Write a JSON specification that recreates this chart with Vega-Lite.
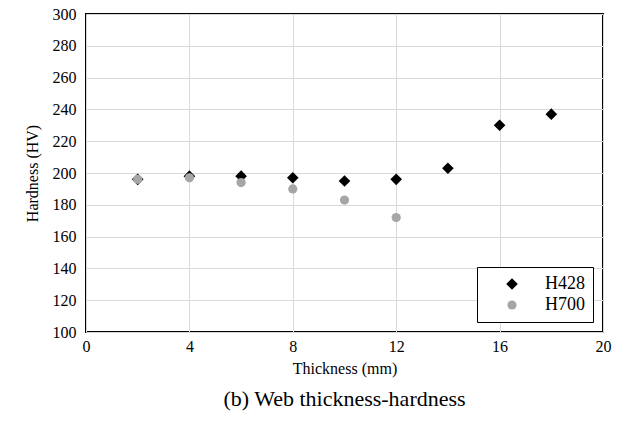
{
  "$schema": "https://vega.github.io/schema/vega-lite/v6.json",
  "width": 517,
  "height": 318,
  "autosize": "none",
  "padding": {"left": 86, "top": 14, "right": 17, "bottom": 91},
  "background": "white",
  "title": {
    "text": "(b) Web thickness-hardness",
    "orient": "bottom",
    "font": "Liberation Serif",
    "fontSize": 22,
    "fontWeight": "normal",
    "color": "black",
    "offset": 13,
    "anchor": "middle"
  },
  "config": {
    "view": {"stroke": "black", "strokeWidth": 2},
    "font": "Liberation Serif",
    "legend": {
      "orient": "none",
      "legendX": 391,
      "legendY": 253,
      "strokeColor": "black",
      "fillColor": "white",
      "padding": 8,
      "labelFont": "Liberation Serif",
      "labelFontSize": 18,
      "labelColor": "black",
      "labelOffset": 24,
      "symbolOffset": 18,
      "rowPadding": 3,
      "symbolStrokeWidth": 0
    }
  },
  "data": {
    "values": [
      {"t": 2, "hv": 196, "s": "H428"},
      {"t": 4, "hv": 198, "s": "H428"},
      {"t": 6, "hv": 198, "s": "H428"},
      {"t": 8, "hv": 197, "s": "H428"},
      {"t": 10, "hv": 195, "s": "H428"},
      {"t": 12, "hv": 196, "s": "H428"},
      {"t": 14, "hv": 203, "s": "H428"},
      {"t": 16, "hv": 230, "s": "H428"},
      {"t": 18, "hv": 237, "s": "H428"},
      {"t": 2, "hv": 196, "s": "H700"},
      {"t": 4, "hv": 197, "s": "H700"},
      {"t": 6, "hv": 194, "s": "H700"},
      {"t": 8, "hv": 190, "s": "H700"},
      {"t": 10, "hv": 183, "s": "H700"},
      {"t": 12, "hv": 172, "s": "H700"}
    ]
  },
  "mark": {"type": "point", "filled": true, "opacity": 1, "strokeWidth": 0},
  "encoding": {
    "x": {
      "field": "t",
      "type": "quantitative",
      "scale": {"domain": [0, 20], "nice": false},
      "axis": {
        "title": "Thickness (mm)",
        "values": [0, 4, 8, 12, 16, 20],
        "grid": true,
        "gridColor": "#d9d9d9",
        "domain": false,
        "ticks": false,
        "labelFont": "Liberation Serif",
        "titleFont": "Liberation Serif",
        "labelPadding": 6,
        "labelFontSize": 16,
        "labelColor": "black",
        "titleFontSize": 16,
        "titleFontWeight": "normal",
        "titleColor": "black",
        "titlePadding": 6,
        "labelFlush": false
      }
    },
    "y": {
      "field": "hv",
      "type": "quantitative",
      "scale": {"domain": [100, 300], "nice": false, "zero": false},
      "axis": {
        "title": "Hardness (HV)",
        "values": [100, 120, 140, 160, 180, 200, 220, 240, 260, 280, 300],
        "grid": true,
        "gridColor": "#d9d9d9",
        "domain": false,
        "ticks": false,
        "labelFont": "Liberation Serif",
        "titleFont": "Liberation Serif",
        "labelPadding": 10,
        "labelFontSize": 16,
        "labelColor": "black",
        "titleFontSize": 16,
        "titleFontWeight": "normal",
        "titleColor": "black",
        "titlePadding": 12
      }
    },
    "shape": {
      "field": "s",
      "type": "nominal",
      "scale": {"domain": ["H428", "H700"], "range": ["diamond", "circle"]},
      "legend": {"title": null}
    },
    "color": {
      "field": "s",
      "type": "nominal",
      "scale": {"domain": ["H428", "H700"], "range": ["#000000", "#a6a6a6"]},
      "legend": {"title": null}
    },
    "size": {
      "field": "s",
      "type": "nominal",
      "scale": {"domain": ["H428", "H700"], "range": [135, 85]},
      "legend": {"title": null}
    }
  }
}
